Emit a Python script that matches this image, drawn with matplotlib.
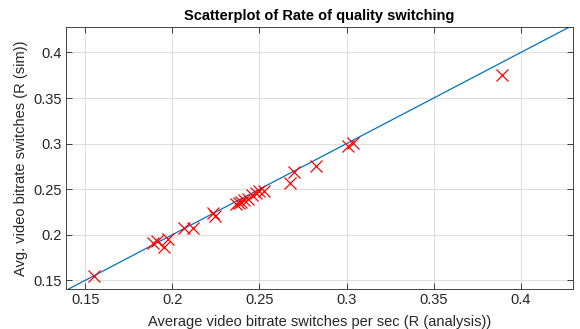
import matplotlib
matplotlib.use("Agg")
import matplotlib.pyplot as plt
import numpy as np

r_analysis = [0.155, 0.189, 0.1914, 0.1952, 0.1977, 0.2067, 0.212, 0.2231, 0.2244,
              0.2368, 0.2384, 0.2397, 0.241, 0.2435, 0.246, 0.2483, 0.2498, 0.2527,
              0.2674, 0.2698, 0.2822, 0.301, 0.3036, 0.3895]
r_sim = [0.155, 0.1914, 0.1928, 0.187, 0.1954, 0.2075, 0.2078, 0.2243, 0.2207,
         0.2334, 0.2353, 0.2364, 0.2382, 0.2389, 0.2437, 0.2455, 0.2485, 0.2485,
         0.2565, 0.2686, 0.2756, 0.2975, 0.3004, 0.3755]
line_ends = [0.139, 0.43]
ticks = [0.15, 0.2, 0.25, 0.3, 0.35, 0.4]
tick_labels = ["0.15", "0.2", "0.25", "0.3", "0.35", "0.4"]

plt.rcParams['font.family'] = ['Liberation Sans', 'DejaVu Sans']
fig = plt.figure(figsize=(5.8, 3.29), dpi=100)
ax = fig.add_axes([0.1138, 0.1216, 0.8742, 0.7964])
ax.plot(line_ends, line_ends, color='#0072BD', lw=0.9, zorder=2)
ax.plot(r_analysis, r_sim, 'x', color='#FF0000', markersize=8.5, mew=0.9, zorder=3)
ax.set_xlim(0.139, 0.43)
ax.set_ylim(0.1405, 0.428)
ax.set_xticks(ticks)
ax.set_xticklabels(tick_labels)
ax.set_yticks(ticks)
ax.set_yticklabels(tick_labels)
ax.grid(True, color='#E0E0E0', lw=0.8, zorder=0)
ax.set_axisbelow(True)
ax.tick_params(direction='in', top=True, right=True, length=4, width=0.6,
               labelsize=10.5, colors='#262626', pad=3)
for s in ax.spines.values():
    s.set_color('#262626')
    s.set_linewidth(0.6)
ax.set_title("Scatterplot of Rate of quality switching", fontsize=10.5,
             fontweight='bold', pad=5)
ax.set_xlabel("Average video bitrate switches per sec (R (analysis))", fontsize=10.5,
              color='#262626', labelpad=6)
ax.set_ylabel("Avg. video bitrate switches (R (sim))", fontsize=10.5,
              color='#262626', labelpad=4)
fig.savefig("out.png", dpi=100)
